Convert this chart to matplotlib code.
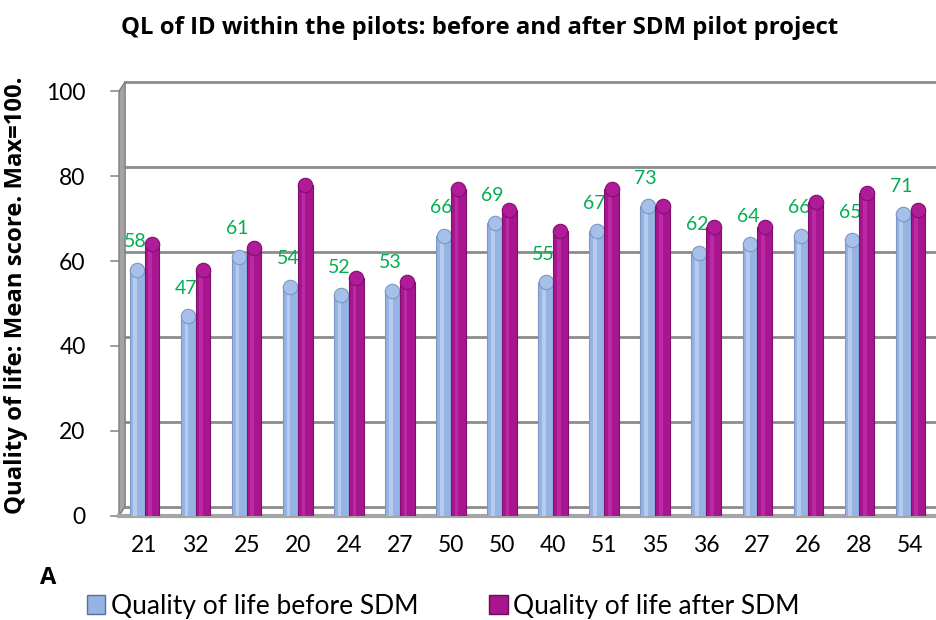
import numpy as np
import matplotlib.pyplot as plt
import matplotlib.transforms as mtransforms
from matplotlib.patches import Patch, Polygon

# data
pilots = ['21', '32', '25', '20', '24', '27', '50', '50', '40', '51', '35', '36', '27', '26', '28', '54']
ql_before = [58, 47, 61, 54, 52, 53, 66, 69, 55, 67, 73, 62, 64, 66, 65, 71]
ql_after = [64, 58, 63, 78, 56, 55, 77, 72, 67, 77, 73, 68, 68, 74, 76, 72]
y_ticks = [0, 20, 40, 60, 80, 100]

plt.rcParams['font.family'] = ['Lato', 'DejaVu Sans']
bold_font = ['Open Sans', 'DejaVu Sans']

fig = plt.figure(figsize=(9.37, 6.2), dpi=100)
ax = fig.add_axes([0.127, 0.168, 0.872, 0.685])

x = np.arange(len(pilots))
w = 0.29

# back wall gridlines, shifted up/right for the 3D look
shift = mtransforms.ScaledTranslation(6 / 100, 9 / 100, fig.dpi_scale_trans)
for t in y_ticks:
    ax.plot([-0.5, 15.5], [t, t], color='#8c8c8c', lw=2.0,
            transform=ax.transData + shift, clip_on=False, zorder=1)
    # small tick stub in front of the side wall
    ax.plot([-0.66, -0.52], [t, t], color='#8c8c8c', lw=1.2, clip_on=False, zorder=1)
# left side wall
wall = Polygon([[-0.5, 0], [-0.5, 100], [-0.38, 102.2], [-0.38, 2.2]],
               closed=True, facecolor='#a3a3a3', edgecolor='#7f7f7f',
               transform=ax.transData, clip_on=False, zorder=1)
ax.add_patch(wall)
# floor
ax.plot([-0.5, 15.5], [0, 0], color='#a6a6a6', lw=3, clip_on=False, zorder=1)

ax.bar(x - w / 2, ql_before, w, color='#95b3e3', edgecolor='#7d97c4',
       linewidth=0.8, zorder=3, label='Quality of life before SDM')
ax.bar(x + w / 2, ql_after, w, color='#a8168f', edgecolor='#80106d',
       linewidth=0.8, zorder=5, label='Quality of life after SDM')

# highlight strips to hint the cylinder shading
ax.bar(x - w / 2 - w * 0.12, ql_before, w * 0.25, color='#b7cbef', linewidth=0, zorder=4)
ax.bar(x + w / 2 - w * 0.12, ql_after, w * 0.25, color='#bb2aa4', linewidth=0, zorder=6)

# rounded caps on top of the cylinders
ax.plot(x - w / 2, ql_before, ls='', marker='o', ms=10.4, mfc='#a6c0ea',
        mec='#7d97c4', mew=0.8, zorder=4.5, clip_on=False)
ax.plot(x + w / 2, ql_after, ls='', marker='o', ms=10.4, mfc='#b01c97',
        mec='#80106d', mew=0.8, zorder=6.5, clip_on=False)

for xi, v in zip(x, ql_before):
    ax.annotate(str(v), (xi - w / 2, v), xytext=(-1.5, 20), textcoords='offset points',
                ha='center', va='center', color='#00b050', fontsize=14)

ax.set_xlim(-0.5, 15.5)
ax.set_ylim(0, 100)
ax.set_yticks(y_ticks)
ax.set_xticks(x)
ax.set_xticklabels(pilots)
ax.tick_params(axis='both', length=0, labelsize=16.5)
ax.tick_params(axis='x', pad=14)
ax.tick_params(axis='y', pad=24)
for s in ax.spines.values():
    s.set_visible(False)

ax.set_ylabel('Quality of life: Mean score. Max=100.', fontsize=17.2,
              fontweight='bold', family=bold_font)
ax.yaxis.set_label_coords(-0.111, 0.52)
fig.text(0.512, 0.955, 'QL of ID within the pilots: before and after SDM pilot project',
         ha='center', va='center', fontsize=17.2, fontweight='bold', family=bold_font)
fig.text(0.051, 0.068, 'A', ha='center', va='center', fontsize=17,
         fontweight='bold', family=bold_font)

handles = [Patch(facecolor='#95b3e3', edgecolor='#5a6f96'),
           Patch(facecolor='#a8168f', edgecolor='#6b0c5b')]
fig.legend(handles, ['Quality of life before SDM', 'Quality of life after SDM'],
           loc='center', bbox_to_anchor=(0.473, 0.022), ncol=2, frameon=False,
           fontsize=19, handlelength=0.7, handleheight=0.7, handletextpad=0.2,
           columnspacing=2.7)

fig.savefig('out.png', dpi=100)
